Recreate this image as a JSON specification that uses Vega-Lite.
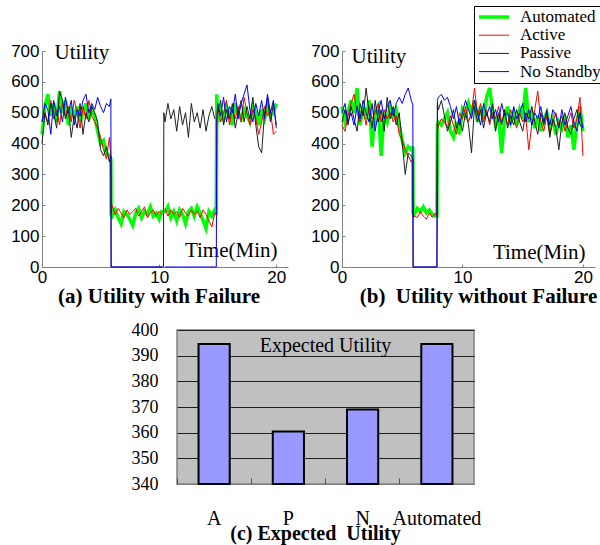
{
"$schema": "https://vega.github.io/schema/vega-lite/v6.json",
"padding": {"left": 10, "top": 5, "right": 0, "bottom": 0},
"config": {"view": {"stroke": null}, "font": "Liberation Serif, Times New Roman, serif"},
"datasets": {
"fail": [
{"t":0,"Automated":430,"Active":470,"Passive":400,"No Standby":470},
{"t":0.25,"Automated":520,"Active":500,"Passive":500,"No Standby":530},
{"t":0.5,"Automated":560,"Active":470,"Passive":460,"No Standby":510},
{"t":0.75,"Automated":490,"Active":540,"Passive":530,"No Standby":430},
{"t":1,"Automated":530,"Active":480,"Passive":500,"No Standby":540},
{"t":1.25,"Automated":470,"Active":510,"Passive":450,"No Standby":490},
{"t":1.5,"Automated":570,"Active":460,"Passive":570,"No Standby":520},
{"t":1.75,"Automated":500,"Active":530,"Passive":540,"No Standby":470},
{"t":2,"Automated":540,"Active":490,"Passive":480,"No Standby":550},
{"t":2.25,"Automated":460,"Active":520,"Passive":510,"No Standby":500},
{"t":2.5,"Automated":510,"Active":470,"Passive":420,"No Standby":540},
{"t":2.75,"Automated":490,"Active":540,"Passive":490,"No Standby":460},
{"t":3,"Automated":520,"Active":500,"Passive":450,"No Standby":510},
{"t":3.25,"Automated":470,"Active":450,"Passive":530,"No Standby":490},
{"t":3.5,"Automated":500,"Active":520,"Passive":430,"No Standby":540},
{"t":3.75,"Automated":530,"Active":480,"Passive":500,"No Standby":560},
{"t":4,"Automated":480,"Active":540,"Passive":470,"No Standby":500},
{"t":4.25,"Automated":510,"Active":490,"Passive":520,"No Standby":530},
{"t":4.5,"Automated":490,"Active":470,"Passive":500,"No Standby":510},
{"t":4.75,"Automated":440,"Active":450,"Passive":470,"No Standby":550},
{"t":5,"Automated":400,"Active":420,"Passive":380,"No Standby":520},
{"t":5.25,"Automated":410,"Active":380,"Passive":360,"No Standby":500},
{"t":5.5,"Automated":370,"Active":350,"Passive":390,"No Standby":530},
{"t":5.75,"Automated":360,"Active":420,"Passive":340,"No Standby":520},
{"t":5.88,"Automated":350,"Active":360,"Passive":360,"No Standby":545},
{"t":5.9,"Automated":170,"Active":175,"Passive":0,"No Standby":0},
{"t":6,"Automated":165,"Active":200,"Passive":0,"No Standby":0},
{"t":6.25,"Automated":185,"Active":170,"Passive":0,"No Standby":0},
{"t":6.5,"Automated":160,"Active":190,"Passive":0,"No Standby":0},
{"t":6.75,"Automated":140,"Active":175,"Passive":0,"No Standby":0},
{"t":7,"Automated":180,"Active":160,"Passive":0,"No Standby":0},
{"t":7.25,"Automated":170,"Active":185,"Passive":0,"No Standby":0},
{"t":7.5,"Automated":155,"Active":170,"Passive":0,"No Standby":0},
{"t":7.75,"Automated":135,"Active":180,"Passive":0,"No Standby":0},
{"t":8,"Automated":175,"Active":190,"Passive":0,"No Standby":0},
{"t":8.25,"Automated":190,"Active":165,"Passive":0,"No Standby":0},
{"t":8.5,"Automated":160,"Active":180,"Passive":0,"No Standby":0},
{"t":8.75,"Automated":180,"Active":195,"Passive":0,"No Standby":0},
{"t":9,"Automated":170,"Active":160,"Passive":0,"No Standby":0},
{"t":9.25,"Automated":195,"Active":175,"Passive":0,"No Standby":0},
{"t":9.5,"Automated":165,"Active":185,"Passive":0,"No Standby":0},
{"t":9.75,"Automated":175,"Active":165,"Passive":0,"No Standby":0},
{"t":10,"Automated":155,"Active":180,"Passive":0,"No Standby":0},
{"t":10.25,"Automated":185,"Active":170,"Passive":0,"No Standby":0},
{"t":10.37,"Passive":0},
{"t":10.4,"Passive":500},
{"t":10.5,"Automated":175,"Active":190,"Passive":470,"No Standby":0},
{"t":10.75,"Automated":195,"Active":165,"Passive":530,"No Standby":0},
{"t":11,"Automated":160,"Active":185,"Passive":480,"No Standby":0},
{"t":11.25,"Automated":180,"Active":170,"Passive":510,"No Standby":0},
{"t":11.5,"Automated":150,"Active":180,"Passive":440,"No Standby":0},
{"t":11.75,"Automated":185,"Active":160,"Passive":520,"No Standby":0},
{"t":12,"Automated":170,"Active":190,"Passive":460,"No Standby":0},
{"t":12.25,"Automated":140,"Active":175,"Passive":500,"No Standby":0},
{"t":12.5,"Automated":180,"Active":165,"Passive":420,"No Standby":0},
{"t":12.75,"Automated":190,"Active":185,"Passive":530,"No Standby":0},
{"t":13,"Automated":165,"Active":170,"Passive":470,"No Standby":0},
{"t":13.25,"Automated":195,"Active":180,"Passive":500,"No Standby":0},
{"t":13.5,"Automated":175,"Active":160,"Passive":450,"No Standby":0},
{"t":13.75,"Automated":150,"Active":185,"Passive":510,"No Standby":0},
{"t":14,"Automated":125,"Active":170,"Passive":440,"No Standby":0},
{"t":14.25,"Automated":180,"Active":150,"Passive":490,"No Standby":0},
{"t":14.5,"Automated":165,"Active":130,"Passive":520,"No Standby":0},
{"t":14.75,"Automated":185,"Active":175,"Passive":480,"No Standby":0},
{"t":14.88,"Automated":170,"Active":170,"No Standby":0},
{"t":14.92,"Automated":560,"Active":480,"No Standby":470},
{"t":15,"Automated":470,"Active":520,"Passive":500,"No Standby":530},
{"t":15.25,"Automated":510,"Active":470,"Passive":540,"No Standby":490},
{"t":15.5,"Automated":480,"Active":500,"Passive":460,"No Standby":550},
{"t":15.75,"Automated":520,"Active":540,"Passive":510,"No Standby":470},
{"t":16,"Automated":490,"Active":460,"Passive":480,"No Standby":520},
{"t":16.25,"Automated":460,"Active":510,"Passive":530,"No Standby":500},
{"t":16.5,"Automated":530,"Active":480,"Passive":450,"No Standby":560},
{"t":16.75,"Automated":500,"Active":520,"Passive":500,"No Standby":480},
{"t":17,"Automated":480,"Active":470,"Passive":540,"No Standby":530},
{"t":17.25,"Automated":510,"Active":550,"Passive":470,"No Standby":560},
{"t":17.5,"Automated":490,"Active":500,"Passive":520,"No Standby":590},
{"t":17.75,"Automated":470,"Active":460,"Passive":480,"No Standby":510},
{"t":18,"Automated":520,"Active":510,"Passive":550,"No Standby":470},
{"t":18.25,"Automated":500,"Active":480,"Passive":460,"No Standby":530},
{"t":18.5,"Automated":460,"Active":430,"Passive":390,"No Standby":490},
{"t":18.75,"Automated":510,"Active":470,"Passive":370,"No Standby":540},
{"t":19,"Automated":480,"Active":520,"Passive":500,"No Standby":480},
{"t":19.25,"Automated":520,"Active":490,"Passive":550,"No Standby":560},
{"t":19.5,"Automated":490,"Active":510,"Passive":470,"No Standby":500},
{"t":19.75,"Automated":500,"Active":430,"Passive":530,"No Standby":540},
{"t":20,"Automated":530,"Active":440,"Passive":460,"No Standby":450}
],
"nofail": [
{"t":0,"Automated":520,"Active":460,"Passive":470,"No Standby":500},
{"t":0.25,"Automated":470,"Active":440,"Passive":510,"No Standby":530},
{"t":0.5,"Automated":500,"Active":490,"Passive":460,"No Standby":470},
{"t":0.75,"Automated":540,"Active":530,"Passive":520,"No Standby":500},
{"t":1,"Automated":500,"Active":560,"Passive":480,"No Standby":460},
{"t":1.25,"Automated":580,"Active":500,"Passive":440,"No Standby":520},
{"t":1.5,"Automated":460,"Active":470,"Passive":530,"No Standby":480},
{"t":1.75,"Automated":520,"Active":510,"Passive":490,"No Standby":540},
{"t":2,"Automated":480,"Active":460,"Passive":580,"No Standby":500},
{"t":2.25,"Automated":540,"Active":520,"Passive":500,"No Standby":470},
{"t":2.5,"Automated":390,"Active":480,"Passive":450,"No Standby":530},
{"t":2.75,"Automated":500,"Active":500,"Passive":540,"No Standby":440},
{"t":3,"Automated":520,"Active":530,"Passive":470,"No Standby":500},
{"t":3.25,"Automated":360,"Active":470,"Passive":510,"No Standby":540},
{"t":3.5,"Automated":500,"Active":510,"Passive":440,"No Standby":480},
{"t":3.75,"Automated":470,"Active":480,"Passive":550,"No Standby":520},
{"t":4,"Automated":520,"Active":500,"Passive":480,"No Standby":540},
{"t":4.25,"Automated":490,"Active":470,"Passive":520,"No Standby":490},
{"t":4.5,"Automated":510,"Active":490,"Passive":460,"No Standby":530},
{"t":4.75,"Automated":460,"Active":430,"Passive":500,"No Standby":550},
{"t":5,"Automated":410,"Active":410,"Passive":400,"No Standby":530},
{"t":5.25,"Automated":370,"Active":380,"Passive":300,"No Standby":560},
{"t":5.5,"Automated":390,"Active":360,"Passive":370,"No Standby":580},
{"t":5.75,"Automated":380,"Active":340,"Passive":360,"No Standby":540},
{"t":5.88,"Automated":390,"Active":350,"Passive":350,"No Standby":525},
{"t":5.9,"Automated":175,"Active":160,"Passive":0,"No Standby":0},
{"t":6,"Automated":170,"Active":165,"Passive":0,"No Standby":0},
{"t":6.25,"Automated":190,"Active":160,"Passive":0,"No Standby":0},
{"t":6.5,"Automated":180,"Active":180,"Passive":0,"No Standby":0},
{"t":6.75,"Automated":195,"Active":165,"Passive":0,"No Standby":0},
{"t":7,"Automated":175,"Active":155,"Passive":0,"No Standby":0},
{"t":7.25,"Automated":185,"Active":175,"Passive":0,"No Standby":0},
{"t":7.5,"Automated":170,"Active":160,"Passive":0,"No Standby":0},
{"t":7.75,"Automated":165,"Active":175,"Passive":0,"No Standby":0},
{"t":7.88,"Automated":165,"Active":165,"Passive":0,"No Standby":0},
{"t":7.92,"Automated":460,"Active":440,"Passive":530,"No Standby":540},
{"t":8,"Automated":470,"Active":460,"Passive":510,"No Standby":550},
{"t":8.25,"Automated":460,"Active":480,"Passive":540,"No Standby":560},
{"t":8.5,"Automated":480,"Active":470,"Passive":490,"No Standby":540},
{"t":8.75,"Automated":500,"Active":450,"Passive":440,"No Standby":550},
{"t":9,"Automated":440,"Active":490,"Passive":470,"No Standby":520},
{"t":9.25,"Automated":420,"Active":460,"Passive":510,"No Standby":480},
{"t":9.5,"Automated":470,"Active":430,"Passive":450,"No Standby":520},
{"t":9.75,"Automated":430,"Active":500,"Passive":480,"No Standby":460},
{"t":10,"Automated":510,"Active":480,"Passive":440,"No Standby":500},
{"t":10.25,"Automated":490,"Active":520,"Passive":500,"No Standby":540},
{"t":10.5,"Automated":530,"Active":470,"Passive":460,"No Standby":510},
{"t":10.75,"Automated":500,"Active":500,"Passive":370,"No Standby":480},
{"t":11,"Automated":540,"Active":580,"Passive":520,"No Standby":540},
{"t":11.25,"Automated":470,"Active":490,"Passive":470,"No Standby":500},
{"t":11.5,"Automated":520,"Active":530,"Passive":510,"No Standby":460},
{"t":11.75,"Automated":480,"Active":470,"Passive":450,"No Standby":530},
{"t":12,"Automated":550,"Active":510,"Passive":500,"No Standby":490},
{"t":12.25,"Automated":580,"Active":460,"Passive":470,"No Standby":520},
{"t":12.5,"Automated":510,"Active":500,"Passive":530,"No Standby":480},
{"t":12.75,"Automated":460,"Active":480,"Passive":440,"No Standby":510},
{"t":13,"Automated":490,"Active":520,"Passive":500,"No Standby":470},
{"t":13.25,"Automated":370,"Active":470,"Passive":460,"No Standby":530},
{"t":13.5,"Automated":480,"Active":500,"Passive":510,"No Standby":490},
{"t":13.75,"Automated":520,"Active":460,"Passive":450,"No Standby":500},
{"t":14,"Automated":470,"Active":510,"Passive":490,"No Standby":460},
{"t":14.25,"Automated":500,"Active":480,"Passive":460,"No Standby":520},
{"t":14.5,"Automated":460,"Active":450,"Passive":510,"No Standby":480},
{"t":14.75,"Automated":510,"Active":500,"Passive":470,"No Standby":500},
{"t":15,"Automated":480,"Active":470,"Passive":440,"No Standby":530},
{"t":15.25,"Automated":580,"Active":490,"Passive":500,"No Standby":470},
{"t":15.5,"Automated":470,"Active":380,"Passive":480,"No Standby":510},
{"t":15.75,"Automated":500,"Active":460,"Passive":520,"No Standby":460},
{"t":16,"Automated":450,"Active":510,"Passive":470,"No Standby":500},
{"t":16.25,"Automated":490,"Active":570,"Passive":430,"No Standby":480},
{"t":16.5,"Automated":440,"Active":470,"Passive":500,"No Standby":520},
{"t":16.75,"Automated":480,"Active":440,"Passive":460,"No Standby":470},
{"t":17,"Automated":500,"Active":490,"Passive":510,"No Standby":500},
{"t":17.25,"Automated":450,"Active":430,"Passive":420,"No Standby":460},
{"t":17.5,"Automated":480,"Active":470,"Passive":480,"No Standby":510},
{"t":17.75,"Automated":430,"Active":500,"Passive":450,"No Standby":490},
{"t":18,"Automated":470,"Active":460,"Passive":380,"No Standby":450},
{"t":18.25,"Automated":450,"Active":490,"Passive":470,"No Standby":510},
{"t":18.5,"Automated":490,"Active":440,"Passive":500,"No Standby":460},
{"t":18.75,"Automated":420,"Active":470,"Passive":450,"No Standby":490},
{"t":19,"Automated":460,"Active":500,"Passive":430,"No Standby":520},
{"t":19.25,"Automated":380,"Active":450,"Passive":480,"No Standby":470},
{"t":19.5,"Automated":470,"Active":480,"Passive":510,"No Standby":440},
{"t":19.75,"Automated":520,"Active":550,"Passive":460,"No Standby":500},
{"t":20,"Automated":440,"Active":360,"Passive":450,"No Standby":450}
],
"bars": [
{"cat":"A","v":394.5},
{"cat":"P","v":360.5},
{"cat":"N","v":369},
{"cat":"Automated","v":394.5}
]
},
"spacing": 13,
"vconcat": [
{
"spacing": 22,
"resolve": {"legend": {"color": "independent", "strokeWidth": "independent"}},
"hconcat": [
{
"width": 246, "height": 216,
"data": {"name": "fail"},
"transform": [{"fold": ["Automated", "Active", "Passive", "No Standby"], "as": ["series", "u"]}],
"mark": {"type": "line"},
"encoding": {
"x": {"field": "t", "type": "quantitative", "scale": {"domain": [0, 21], "nice": false},
"axis": {"values": [0, 10, 20], "grid": false, "labelFont": "Liberation Sans", "labelFontSize": 17, "labelColor": "black", "domainColor": "#808080", "tickColor": "#808080", "tickSize": -3, "labelPadding": 5, "labelFlush": false,
"title": "Time(Min)", "titleX": 235, "titleY": -11, "titleAlign": "right", "titleBaseline": "alphabetic", "titleFont": "Liberation Serif, Times New Roman, serif", "titleFontSize": 21, "titleFontWeight": "normal", "titleColor": "black"}},
"y": {"field": "u", "type": "quantitative", "scale": {"domain": [0, 700], "nice": false},
"axis": {"values": [0, 100, 200, 300, 400, 500, 600, 700], "grid": false, "labelFont": "Liberation Sans", "labelFontSize": 17, "labelColor": "black", "domainColor": "#808080", "tickColor": "#808080", "tickSize": -3, "labelPadding": 6,
"title": "Utility", "titleAngle": 0, "titleX": 12, "titleY": 7, "titleAlign": "left", "titleBaseline": "alphabetic", "titleFont": "Liberation Serif, Times New Roman, serif", "titleFontSize": 21, "titleFontWeight": "normal", "titleColor": "black"}},
"color": {"field": "series", "type": "nominal", "scale": {"domain": ["Automated", "Active", "Passive", "No Standby"], "range": ["#00ff00", "#ff0000", "#202020", "#0000ff"]}, "legend": null},
"strokeWidth": {"field": "series", "type": "nominal", "scale": {"type": "ordinal", "domain": ["Automated", "Active", "Passive", "No Standby"], "range": [3.5, 1, 1, 1]}, "legend": null}
},
"title": {"text": "(a) Utility with Failure", "orient": "bottom", "anchor": "middle", "frame": "group", "font": "Liberation Serif, Times New Roman, serif", "fontSize": 21, "fontWeight": "bold", "color": "black", "offset": 1, "dx": -6}
},
{
"width": 253, "height": 216,
"data": {"name": "nofail"},
"transform": [{"fold": ["Automated", "Active", "Passive", "No Standby"], "as": ["series", "u"]}],
"mark": {"type": "line"},
"encoding": {
"x": {"field": "t", "type": "quantitative", "scale": {"domain": [0, 21], "nice": false},
"axis": {"values": [0, 10, 20], "grid": false, "labelFont": "Liberation Sans", "labelFontSize": 17, "labelColor": "black", "domainColor": "#808080", "tickColor": "#808080", "tickSize": -3, "labelPadding": 5, "labelFlush": false,
"title": "Time(Min)", "titleX": 243, "titleY": -9, "titleAlign": "right", "titleBaseline": "alphabetic", "titleFont": "Liberation Serif, Times New Roman, serif", "titleFontSize": 21, "titleFontWeight": "normal", "titleColor": "black"}},
"y": {"field": "u", "type": "quantitative", "scale": {"domain": [0, 700], "nice": false},
"axis": {"values": [0, 100, 200, 300, 400, 500, 600, 700], "grid": false, "labelFont": "Liberation Sans", "labelFontSize": 17, "labelColor": "black", "domainColor": "#808080", "tickColor": "#808080", "tickSize": -3, "labelPadding": 6,
"title": "Utility", "titleAngle": 0, "titleX": 9, "titleY": 11, "titleAlign": "left", "titleBaseline": "alphabetic", "titleFont": "Liberation Serif, Times New Roman, serif", "titleFontSize": 21, "titleFontWeight": "normal", "titleColor": "black"}},
"color": {"field": "series", "type": "nominal", "scale": {"domain": ["Automated", "Active", "Passive", "No Standby"], "range": ["#00ff00", "#ff0000", "#202020", "#0000ff"]},
"legend": {"orient": "none", "legendX": 132, "legendY": -45, "title": null, "symbolType": "stroke", "symbolSize": 900, "clipHeight": 16, "rowPadding": 1.2, "labelFont": "Liberation Serif, Times New Roman, serif", "labelFontSize": 17, "labelColor": "black", "labelOffset": 9, "fillColor": "white", "strokeColor": "black", "padding": 3}},
"strokeWidth": {"field": "series", "type": "nominal", "scale": {"type": "ordinal", "domain": ["Automated", "Active", "Passive", "No Standby"], "range": [3.5, 1, 1, 1]},
"legend": {"orient": "none", "legendX": 132, "legendY": -45, "title": null, "symbolType": "stroke", "symbolSize": 900, "clipHeight": 16, "rowPadding": 1.2, "labelFont": "Liberation Serif, Times New Roman, serif", "labelFontSize": 17, "labelColor": "black", "labelOffset": 9, "fillColor": "white", "strokeColor": "black", "padding": 3}}
},
"title": {"text": "(b)\u00a0 Utility without Failure", "orient": "bottom", "anchor": "middle", "frame": "group", "font": "Liberation Serif, Times New Roman, serif", "fontSize": 21, "fontWeight": "bold", "color": "black", "offset": 1, "dx": 10}
}
]
},
{
"spacing": 0,
"hconcat": [
{"width": 88, "height": 10, "data": {"values": []}, "mark": "point"},
{
"width": 297, "height": 154,
"data": {"name": "bars"},
"view": {"fill": "#c0c0c0", "stroke": "#808080", "strokeWidth": 1.5},
"mark": {"type": "bar", "fill": "#9999ff", "stroke": "black", "strokeWidth": 2, "width": {"band": 0.42}},
"encoding": {
"x": {"field": "cat", "type": "nominal", "sort": null, "scale": {"paddingInner": 0, "paddingOuter": 0},
"axis": {"title": null, "labelAngle": 0, "labelFont": "Liberation Serif, Times New Roman, serif", "labelFontSize": 20, "labelColor": "black", "labelPadding": 30, "tickSize": -6, "bandPosition": 0, "domainColor": "#808080", "tickColor": "#505050"}},
"y": {"field": "v", "type": "quantitative", "scale": {"domain": [340, 400], "zero": false, "nice": false},
"axis": {"values": [340, 350, 360, 370, 380, 390, 400], "grid": true, "gridColor": "#202020", "gridOpacity": 1, "domain": false, "ticks": false, "labelFont": "Liberation Serif, Times New Roman, serif", "labelFontSize": 18, "labelColor": "black", "labelPadding": 19,
"title": "Expected Utility", "titleAngle": 0, "titleX": 148, "titleY": 21, "titleAlign": "center", "titleBaseline": "alphabetic", "titleFont": "Liberation Serif, Times New Roman, serif", "titleFontSize": 20, "titleFontWeight": "normal", "titleColor": "black"}},
"y2": {"datum": 340}
},
"title": {"text": "(c) Expected\u00a0 Utility", "orient": "bottom", "anchor": "middle", "frame": "group", "font": "Liberation Serif, Times New Roman, serif", "fontSize": 20, "fontWeight": "bold", "color": "black", "offset": -4, "dx": -10}
}
]
}
]
}
